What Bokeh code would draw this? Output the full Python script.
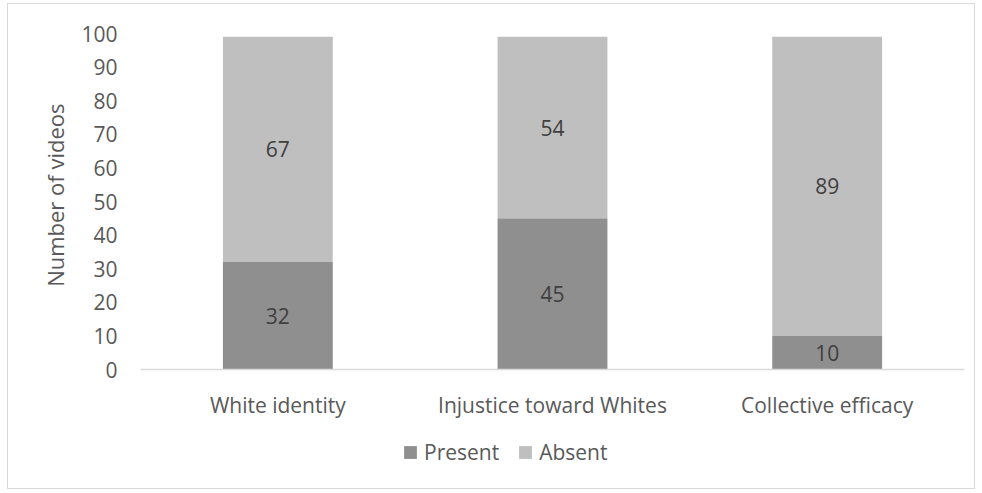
from bokeh.plotting import figure
from bokeh.models import (ColumnDataSource, FactorRange, FixedTicker, Legend, LegendItem,
                          LabelSet, Range1d, Title)
from bokeh.core.properties import value
from bokeh.embed import file_html
from bokeh.resources import INLINE

# Counts of videos per theme
themes = ["White identity", "Injustice toward Whites", "Collective efficacy"]
present = [32, 45, 10]
absent = [67, 54, 89]
y_ticks = [0, 10, 20, 30, 40, 50, 60, 70, 80, 90, 100]

FONT = "Open Sans"
FS = "21px"
TEXT = "#595959"
DARK = "#8f8f8f"
LIGHT = "#bfbfbf"

# frame: top at value 100, 336 px down to 0, then 101 px more for labels and legend
Y_START = -100 * 101 / 336

src = ColumnDataSource(dict(
    theme=themes,
    present=present,
    absent=absent,
    top=[a + b for a, b in zip(present, absent)],
    present_mid=[v / 2 for v in present],
    absent_mid=[a + b / 2 for a, b in zip(present, absent)],
    present_txt=[str(v) for v in present],
    absent_txt=[str(v) for v in absent],
))

p = figure(
    x_range=FactorRange(*themes), y_range=Range1d(Y_START, 100),
    width=968, height=486, output_backend="svg", toolbar_location=None,
    min_border_left=132, min_border_right=12, min_border_top=29, min_border_bottom=20,
)
p.margin = (3, 0, 0, 7)
p.styles = {"border": "1px solid #d9d9d9"}
p.outline_line_color = None
p.background_fill_color = "white"
p.border_fill_color = "white"
p.xgrid.visible = False
p.ygrid.visible = False

r_present = p.vbar(x="theme", bottom=0, top="present", width=0.4, source=src,
                   fill_color=DARK, line_color=None)
r_absent = p.vbar(x="theme", bottom="present", top="top", width=0.4, source=src,
                  fill_color=LIGHT, line_color=None)

for ycol, tcol in (("present_mid", "present_txt"), ("absent_mid", "absent_txt")):
    p.add_layout(LabelSet(x="theme", y=ycol, text=tcol, source=src,
                          text_align="center", text_baseline="middle",
                          text_font=value(FONT), text_font_size=value(FS),
                          text_color="#404040"))

# y axis
p.yaxis.ticker = FixedTicker(ticks=y_ticks)
p.yaxis.axis_line_color = None
p.yaxis.major_tick_line_color = None
p.yaxis.major_tick_out = 0
p.yaxis.minor_tick_line_color = None
p.yaxis.minor_tick_out = 0
p.yaxis.major_label_standoff = 23
p.yaxis.major_label_text_font = FONT
p.yaxis.major_label_text_font_size = FS
p.yaxis.major_label_text_color = TEXT

# y axis title, centred on the 0-100 span rather than the whole frame
ytitle = Title(text="Number of videos", align="right", offset=70,
               text_font=FONT, text_font_size="22px", text_font_style="normal",
               text_color=TEXT)
if "standoff" in Title.properties():
    ytitle.standoff = 18
p.add_layout(ytitle, "left")

# x axis sits on the zero line inside the frame
p.xaxis.fixed_location = 0
p.xaxis.axis_line_color = "#d9d9d9"
p.xaxis.axis_line_width = 1.5
p.xaxis.major_tick_line_color = None
p.xaxis.major_tick_out = 0
p.xaxis.minor_tick_line_color = None
p.xaxis.minor_tick_out = 0
p.xaxis.major_label_standoff = 21
p.xaxis.major_label_text_font = FONT
p.xaxis.major_label_text_font_size = FS
p.xaxis.major_label_text_color = TEXT

legend = Legend(
    items=[LegendItem(label="Present", renderers=[r_present]),
           LegendItem(label="Absent", renderers=[r_absent])],
    orientation="horizontal", location=(262, 4),
    glyph_width=16, glyph_height=16, label_standoff=6, spacing=18,
    padding=0, margin=0, border_line_color=None, background_fill_alpha=0,
    label_text_font=FONT, label_text_font_size=FS, label_text_color=TEXT,
)
p.add_layout(legend, "center")

open("out.html", "w").write(file_html(p, INLINE))
